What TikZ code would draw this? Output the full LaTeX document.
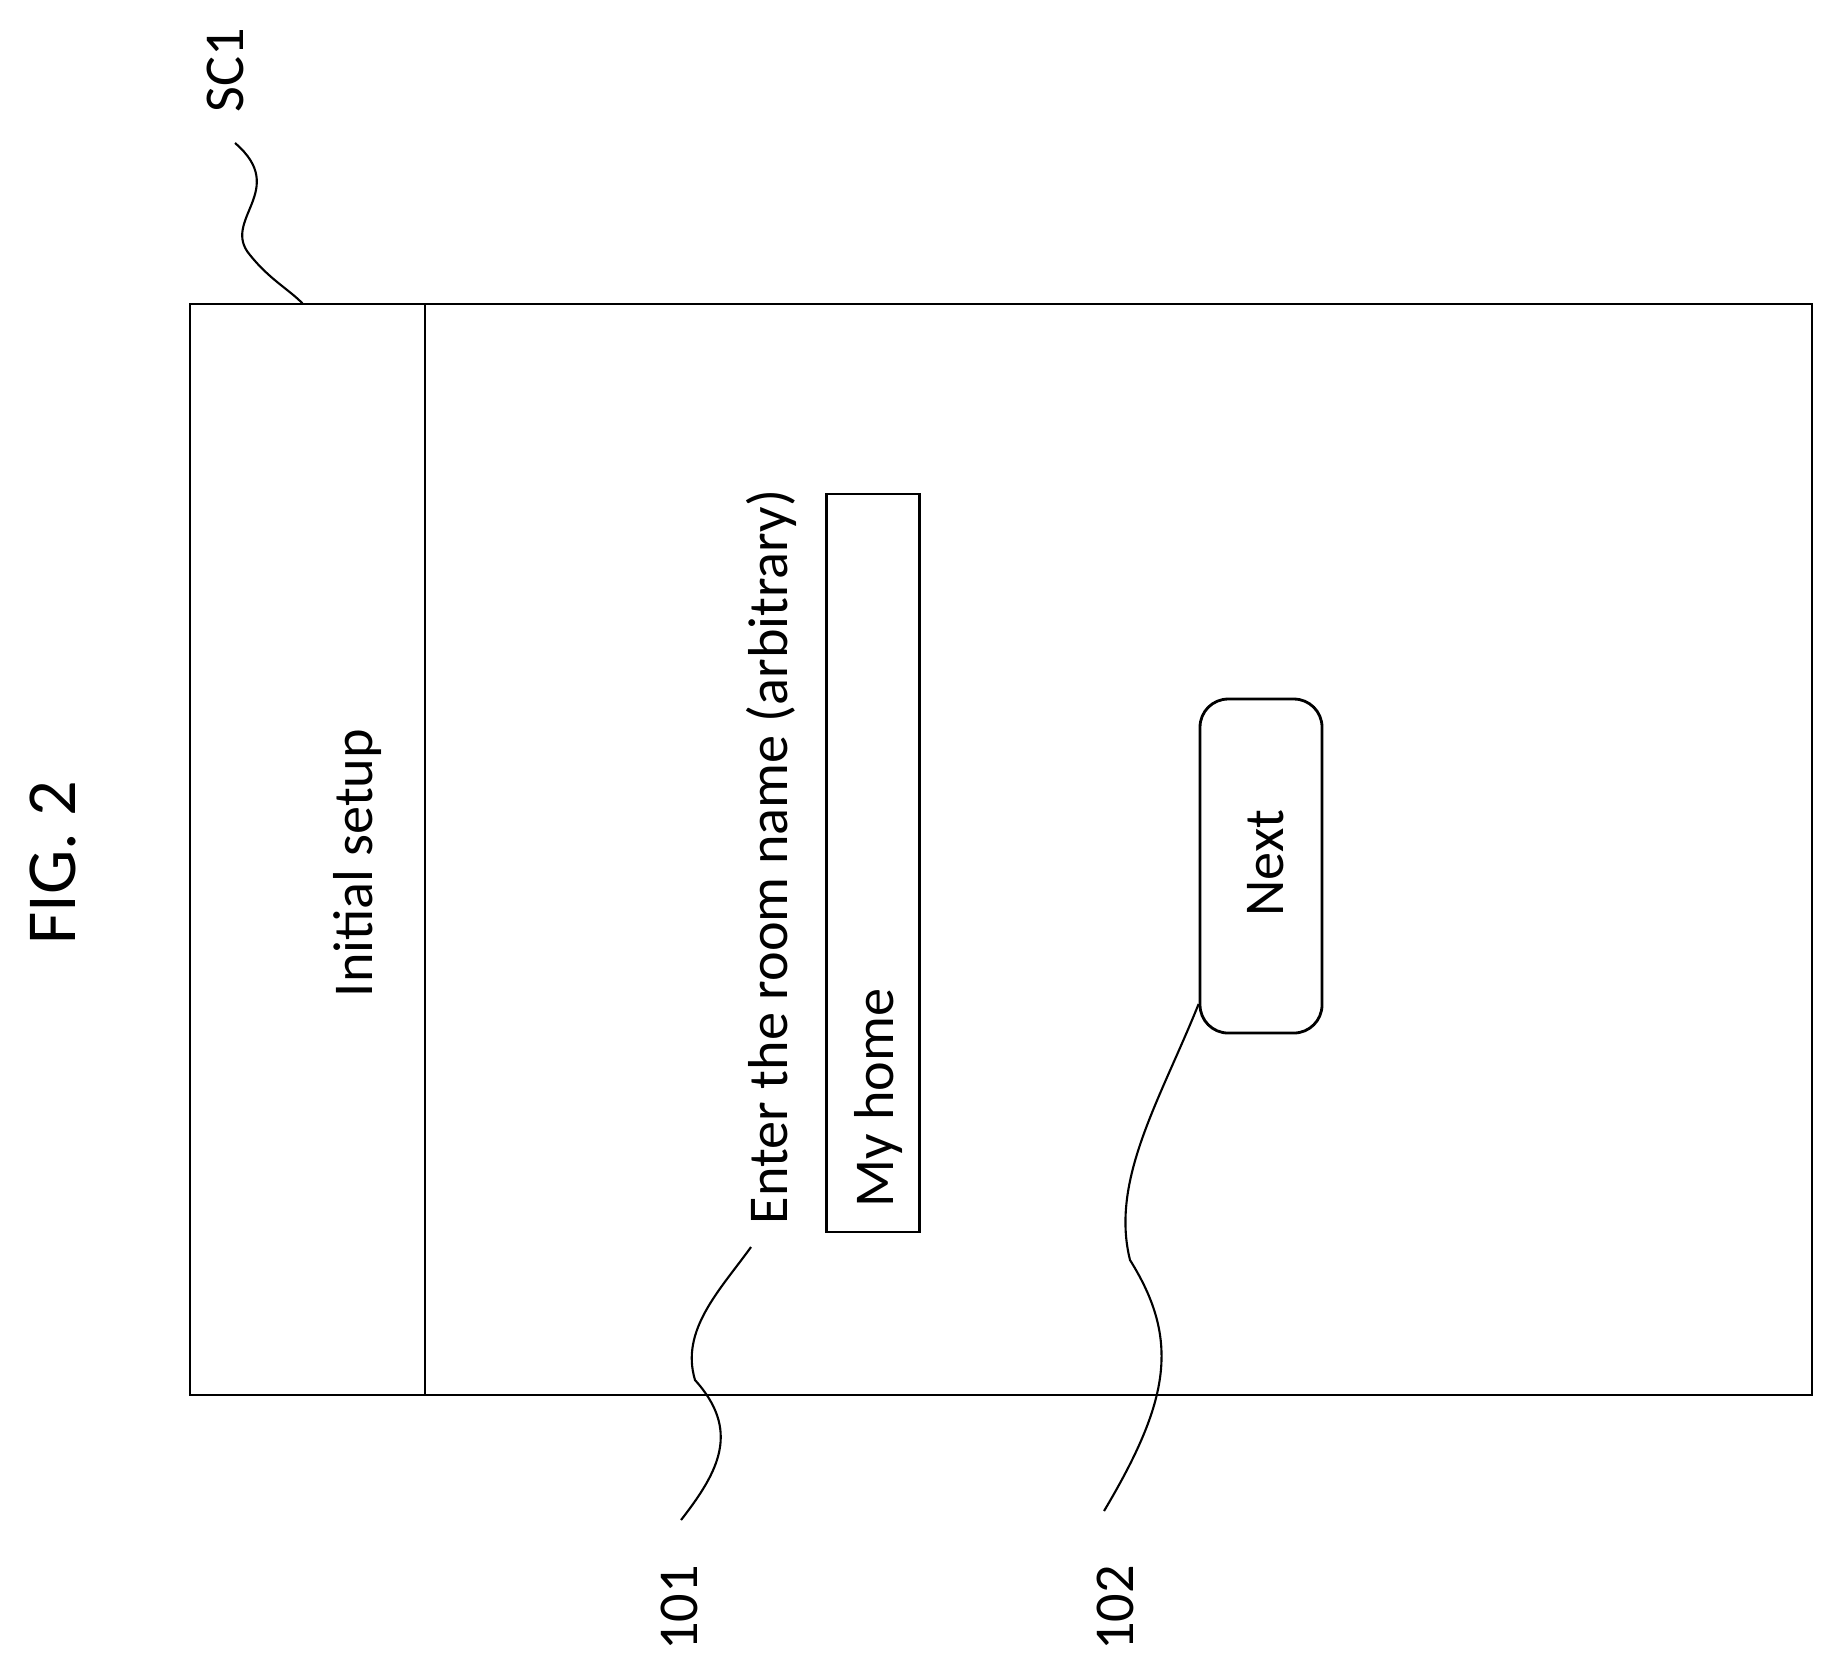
\documentclass[tikz,border=0pt]{standalone}
\usepackage{fontspec}
\setmainfont{Carlito}
\begin{document}
\begin{tikzpicture}[lbl/.style={font=\fontsize{16}{19}\selectfont,rotate=90},
lead/.style={line width=0.6pt}]
\useasboundingbox (0,0) rectangle (18.31,-16.70);
\node[lbl,font=\fontsize{20}{23}\selectfont] (fig) at (0.53,-8.63) {FIG. 2};
\draw[line width=0.8pt] (1.90,-3.04) rectangle (18.12,-13.95);
\draw[line width=0.6pt] (4.25,-3.04) -- (4.25,-13.95);
\node[lbl] (title) at (3.58,-8.63) {Initial setup};
\node[lbl] (prompt) at (7.71,-8.57) {Enter the room name (arbitrary)};
\node[draw,line width=0.6pt,minimum width=0.93cm,minimum height=7.38cm] (field) at (8.73,-8.63) {};
\node[lbl] (home) at (8.78,-10.98) {My home};
\node[draw,rounded corners=8pt,line width=0.8pt,minimum width=1.22cm,minimum height=3.34cm] (next) at (12.61,-8.66) {};
\node[lbl] (nexttxt) at (12.66,-8.63) {Next};
\node[lbl] (sc1) at (2.25,-0.70) {SC1};
\node[lbl] (r101) at (6.79,-16.08) {101};
\node[lbl] (r102) at (11.15,-16.08) {102};
\coordinate (sctop) at (2.35,-1.43);
\coordinate (top101) at (7.51,-12.47);
\coordinate (bot101) at (6.81,-15.20);
\coordinate (bot102) at (11.04,-15.11);
\draw[lead] (sctop) .. controls (2.90,-1.90) and (2.20,-2.20) .. (2.50,-2.55)
  .. controls (2.70,-2.80) and (2.90,-2.90) .. (3.03,-3.04);
\draw[lead] (top101) .. controls (7.20,-12.90) and (6.80,-13.30) .. (6.95,-13.80)
  .. controls (7.40,-14.30) and (7.20,-14.70) .. (bot101);
\draw[lead] (next.west |- 0,-10.04) .. controls (11.60,-11.00) and (11.10,-11.80) .. (11.30,-12.60)
  .. controls (11.80,-13.40) and (11.70,-14.00) .. (bot102);
\end{tikzpicture}
\end{document}
